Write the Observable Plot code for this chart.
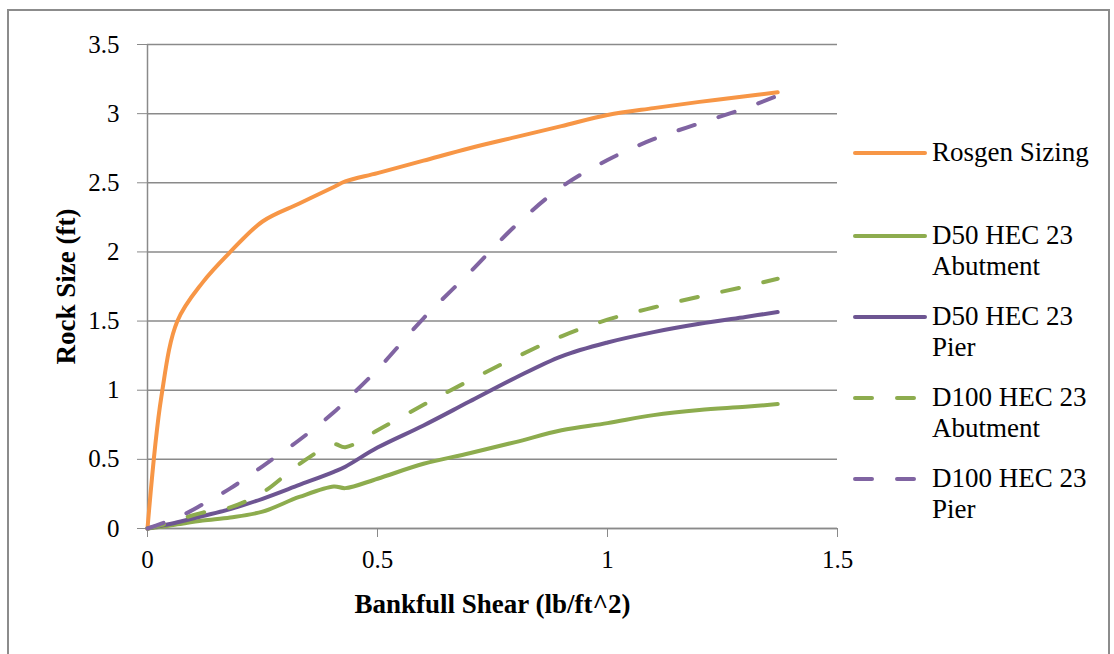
<!DOCTYPE html>
<html>
<head>
<meta charset="utf-8">
<script src="https://cdn.jsdelivr.net/npm/d3@7"></script>
<script src="https://cdn.jsdelivr.net/npm/@observablehq/plot@0.6"></script>
<style>
  html, body { margin: 0; padding: 0; background: #fff; }
  #wrap { position: relative; width: 1114px; height: 654px; overflow: hidden; font-family: "Liberation Serif", serif; }
  #frame { position: absolute; left: 7px; top: 9px; width: 1103px; height: 700px; border: 2px solid #8c8c8c; box-sizing: border-box; }
  #chart { position: absolute; left: 0; top: 0; }
  #legend { position: absolute; left: 852px; top: 137px; }
  .item { display: flex; align-items: flex-start; margin-bottom: 19px; }
  .item svg { flex: none; margin-top: 11px; }
  .item .lab { width: 175px; font-size: 27px; line-height: 31px; color: #000; margin-left: 4px; }
</style>
</head>
<body>
<div id="wrap">
  <div id="frame"></div>
  <div id="chart"></div>
  <div id="legend"></div>
</div>
<script>
// Bankfull shear (lb/ft^2)
const shear    = [0, 0.03, 0.065, 0.12, 0.18, 0.25, 0.33, 0.405, 0.43, 0.5, 0.6, 0.7, 0.8, 0.9, 1.0, 1.1, 1.2, 1.3, 1.37];
// Rock size (ft)
const rosgen   = [0, 0.95, 1.5, 1.78, 2.0, 2.22, 2.35, 2.47, 2.51, 2.57, 2.66, 2.75, 2.83, 2.91, 2.99, 3.04, 3.085, 3.125, 3.155];
const d50Abut  = [0, 0.012, 0.03, 0.058, 0.08, 0.122, 0.228, 0.304, 0.292, 0.36, 0.468, 0.544, 0.625, 0.71, 0.762, 0.82, 0.857, 0.88, 0.90];
const d50Pier  = [0, 0.02, 0.045, 0.09, 0.14, 0.215, 0.315, 0.41, 0.447, 0.585, 0.745, 0.918, 1.09, 1.245, 1.345, 1.42, 1.48, 1.53, 1.565];
const d100Abut = [0, 0.025, 0.062, 0.115, 0.153, 0.26, 0.465, 0.61, 0.588, 0.71, 0.895, 1.07, 1.237, 1.39, 1.51, 1.598, 1.677, 1.75, 1.806];
const d100Pier = [0, 0.035, 0.078, 0.175, 0.29, 0.45, 0.64, 0.84, 0.92, 1.15, 1.52, 1.85, 2.19, 2.47, 2.665, 2.815, 2.93, 3.04, 3.13];

const seriesNames = ["Rosgen Sizing", "D50 HEC 23 Abutment", "D50 HEC 23 Pier", "D100 HEC 23 Abutment", "D100 HEC 23 Pier"];
const seriesValues = [rosgen, d50Abut, d50Pier, d100Abut, d100Pier];
const seriesColors = ["#F79646", "#8DAC4E", "#6D5592", "#8DAC4E", "#8064A2"];
const seriesDashed = [false, false, false, true, true];

const xTicks = [0, 0.5, 1, 1.5];
const yTicks = [0, 0.5, 1, 1.5, 2, 2.5, 3, 3.5];

const DASH = "17,25";
const font = "Liberation Serif, serif";

const lineMarks = seriesNames.map((name, i) =>
  Plot.line(shear.map((s, j) => ({shear: s, size: seriesValues[i][j]})), {
    x: "shear", y: "size",
    stroke: seriesColors[i], strokeWidth: 4,
    strokeDasharray: seriesDashed[i] ? DASH : null,
    strokeLinecap: "round", strokeLinejoin: "round",
    curve: "catmull-rom"
  })
);

const chart = Plot.plot({
  width: 1114, height: 654,
  marginLeft: 147, marginRight: 277, marginTop: 44, marginBottom: 126,
  style: {fontFamily: font, fontSize: "25px", color: "#000", background: "transparent"},
  x: {domain: [0, 1.5]},
  y: {domain: [0, 3.5]},
  marks: [
    Plot.gridY(yTicks, {stroke: "#8a8a8a", strokeOpacity: 1, strokeWidth: 1.5}),
    Plot.axisY(yTicks, {tickSize: 10, tickPadding: 18, stroke: "#8a8a8a", tickFormat: d => String(d), fontSize: 25, label: null}),
    Plot.axisX(xTicks, {tickSize: 9, tickPadding: 13, stroke: "#8a8a8a", tickFormat: d => String(d), fontSize: 25, label: null}),
    Plot.ruleX([0], {stroke: "#8a8a8a", strokeWidth: 1.5}),
    Plot.ruleY([0], {stroke: "#8a8a8a", strokeWidth: 1.5}),
    ...lineMarks,
    Plot.text(["Bankfull Shear (lb/ft^2)"], {frameAnchor: "bottom", dy: 76, fontWeight: "bold", fontSize: 27, lineAnchor: "middle"}),
    Plot.text(["Rock Size (ft)"], {frameAnchor: "left", dx: -81, rotate: -90, textAnchor: "middle", lineAnchor: "middle", fontWeight: "bold", fontSize: 27})
  ]
});
document.getElementById("chart").appendChild(chart);

// Legend
const legend = d3.select("#legend");
seriesNames.forEach((name, i) => {
  const item = legend.append("div").attr("class", "item");
  if (i === 0) item.style("margin-bottom", "52px");
  const svg = item.append("svg").attr("width", 76).attr("height", 10);
  svg.append("line")
    .attr("x1", 3).attr("x2", 73).attr("y1", 5).attr("y2", 5)
    .attr("stroke", seriesColors[i]).attr("stroke-width", 4)
    .attr("stroke-linecap", "round")
    .attr("stroke-dasharray", seriesDashed[i] ? DASH : null);
  item.append("div").attr("class", "lab").text(name);
});
</script>
</body>
</html>
